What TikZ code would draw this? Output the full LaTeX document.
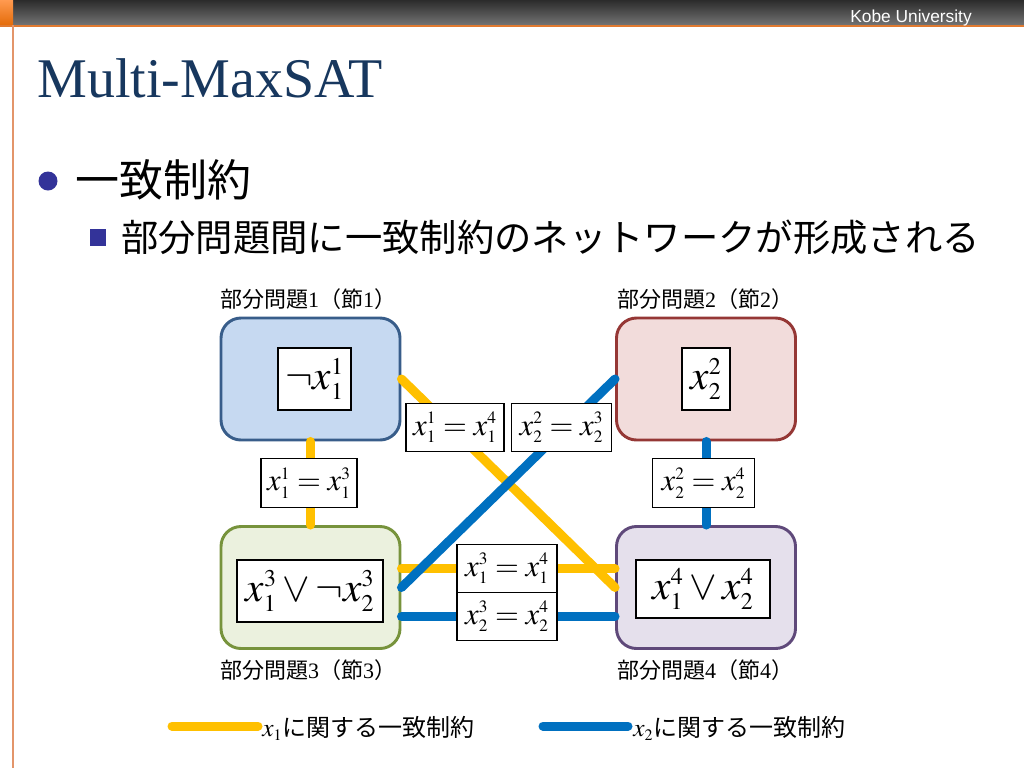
\documentclass[tikz,border=0pt]{standalone}
\usepackage{mathptmx}
\usepackage{fontspec}
\setmainfont{Liberation Serif}
\newfontfamily\jp{Noto Sans CJK JP}
\newfontfamily\kobe{Liberation Sans}
\DeclareMathSizes{31}{31}{18}{14}
\DeclareMathSizes{23}{23}{13}{10}
\DeclareMathSizes{19}{19}{12}{9}
\definecolor{hdtop}{HTML}{2B2B2B}
\definecolor{hdbot}{HTML}{737373}
\definecolor{orA}{HTML}{FF9A50}
\definecolor{orB}{HTML}{E46C0A}
\definecolor{orline}{HTML}{E07A30}
\definecolor{orthin}{HTML}{E3956A}
\definecolor{titleblue}{HTML}{17375E}
\definecolor{bulc}{HTML}{333399}
\definecolor{b1f}{HTML}{C6D9F1}
\definecolor{b1d}{HTML}{385D8A}
\definecolor{b2f}{HTML}{F2DCDB}
\definecolor{b2d}{HTML}{953735}
\definecolor{b3f}{HTML}{EBF1DE}
\definecolor{b3d}{HTML}{77933C}
\definecolor{b4f}{HTML}{E5E0EC}
\definecolor{b4d}{HTML}{5F497A}
\definecolor{ycol}{HTML}{FFC000}
\definecolor{bcol}{HTML}{0070C0}
\tikzset{
  bigbox/.style={rounded corners=15pt, line width=2.2pt, minimum width=134.25pt, minimum height=91.5pt, inner sep=0pt},
  inbox/.style={draw=black, fill=white, line width=0.8pt, inner sep=1pt, minimum height=46.5pt, font=\fontsize{31}{36}\selectfont},
  eqbox/.style={draw=black, fill=white, line width=0.8pt, inner sep=1pt, minimum width=74pt, minimum height=36.5pt, font=\fontsize{23}{27}\selectfont},
  ycon/.style={draw=ycol, line width=6.75pt, line cap=round},
  bcon/.style={draw=bcol, line width=6.75pt, line cap=round},
  sublabel/.style={inner sep=0pt, font=\fontsize{16.5}{19}\selectfont},
  legtext/.style={inner sep=0pt, anchor=west, font=\fontsize{18}{21}\selectfont},
}
\begin{document}
\begin{tikzpicture}[x=0.75pt,y=-0.75pt]
\useasboundingbox (0,0) rectangle (1024,768);
\fill[white] (0,0) rectangle (1024,768);
% header
\shade[top color=hdtop,bottom color=hdbot] (13,0) rectangle (1024,25);
\shade[top color=orA,bottom color=orB] (0,0) rectangle (13,25);
\draw[orline, line width=1.5pt] (0,25.5) -- (1024,25.5);
\draw[orthin, line width=1pt] (13,25) -- (13,768);
\node[anchor=base east, text=white, inner sep=0pt, font=\kobe\fontsize{13}{15}\selectfont] (kobe) at (972,22) {Kobe University};
% title
\node[anchor=base west, inner sep=0pt, text=titleblue, font=\fontsize{42}{48}\selectfont] (title) at (37,97) {Multi-MaxSAT};
% bullets
\node[circle, fill=bulc, minimum size=14.25pt, inner sep=0pt] (bul1) at (48,181) {};
\node[anchor=west, inner sep=0pt, font=\jp\fontsize{33}{38}\selectfont] (t1) at (75,180) {一致制約};
\node[fill=bulc, minimum size=12.5pt, inner sep=0pt] (bul2) at (98,237.5) {};
\node[anchor=west, inner sep=0pt, font=\jp\fontsize{28}{32}\selectfont] (t2) at (121,237) {部分問題間に一致制約のネットワークが形成される};
% big boxes
\node[bigbox, fill=b1f, draw=b1d] (B1) at (310.5,379) {};
\node[bigbox, fill=b2f, draw=b2d] (B2) at (706,379) {};
\node[bigbox, fill=b3f, draw=b3d] (B3) at (310.5,587.5) {};
\node[bigbox, fill=b4f, draw=b4d] (B4) at (706,587.5) {};
% positions of the two stacked labels
\coordinate (pa) at (507,568.5);
\coordinate (pb) at (507,616.5);
% connectors
\draw[ycon] (B1.south) -- (B3.north);
\draw[ycon] (B1.east) -- (B4.west);
\draw[ycon] (B3.east |- pa) -- (B4.west |- pa);
\draw[bcon] (B2.south) -- (B4.north);
\draw[bcon] (B3.east) -- (B2.west);
\draw[bcon] (B3.east |- pb) -- (B4.west |- pb);
% box labels
\node[sublabel] (L1) at (308,299) {{\jp 部分問題}1{\jp （節}1{\jp ）}};
\node[sublabel] (L2) at (705,299) {{\jp 部分問題}2{\jp （節}2{\jp ）}};
\node[sublabel] (L3) at (308,670) {{\jp 部分問題}3{\jp （節}3{\jp ）}};
\node[sublabel] (L4) at (705,670) {{\jp 部分問題}4{\jp （節}4{\jp ）}};
% inner clauses
\node[inbox, minimum width=54.75pt] (c1) at (314.5,379) {$\neg x_1^1$};
\node[inbox, minimum width=36pt] (c2) at (706,379) {$x_2^2$};
\node[inbox, minimum width=109.5pt] (c3) at (310,591) {$x_1^3\vee\neg x_2^3$};
\node[inbox, minimum width=100.5pt, minimum height=43.5pt] (c4) at (703,589) {$x_1^4\vee x_2^4$};
% constraint labels
\node[eqbox, minimum width=72pt] (e13) at (309,483) {$x_1^1=x_1^3$};
\node[eqbox, minimum width=77pt] (e24) at (703.5,483) {$x_2^2=x_2^4$};
\node[eqbox, minimum width=73.5pt] (e14) at (455,427.5) {$x_1^1=x_1^4$};
\node[eqbox, minimum width=75.5pt] (e23) at (561.5,427.5) {$x_2^2=x_2^3$};
\node[eqbox, minimum width=75pt, minimum height=35.5pt] (e34a) at (pa) {$x_1^3=x_1^4$};
\node[eqbox, minimum width=75pt, minimum height=36.5pt] (e34b) at (pb) {$x_2^3=x_2^4$};
% legend
\coordinate (ly1) at (172,726);
\coordinate (ly2) at (258,726);
\coordinate (lb1) at (543,726);
\coordinate (lb2) at (628,726);
\draw[ycon] (ly1) -- (ly2);
\draw[bcon] (lb1) -- (lb2);
\node[legtext] (lt1) at (262,728) {{\fontsize{19}{21}\selectfont$x_1$}{\jp に関する一致制約}};
\node[legtext] (lt2) at (633,728) {{\fontsize{19}{21}\selectfont$x_2$}{\jp に関する一致制約}};
\end{tikzpicture}
\end{document}
